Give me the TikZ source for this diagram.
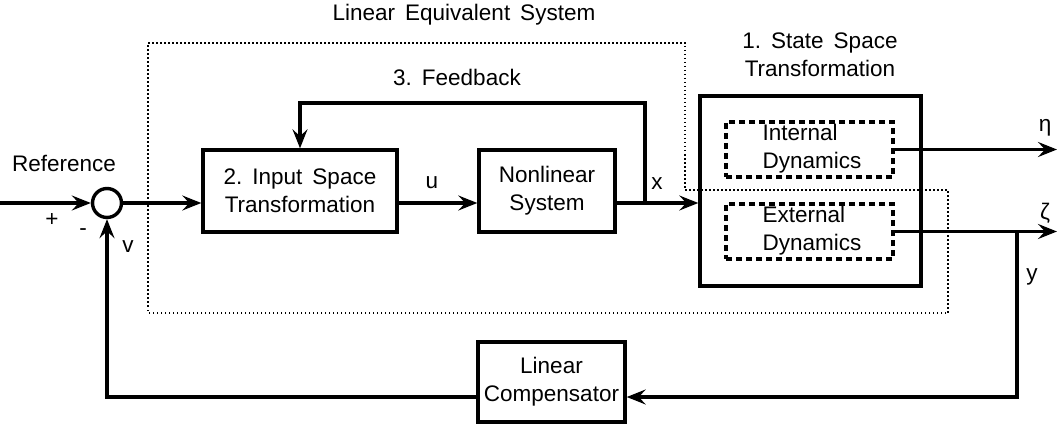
\documentclass[tikz,border=0pt]{standalone}
\usepackage{fontspec}
\setmainfont{Liberation Sans}
\usetikzlibrary{arrows.meta,calc}
\newcommand\widespaces{\spaceskip=10pt\relax}
\begin{document}
\begin{tikzpicture}[x=1pt,y=-1pt,
  font=\fontsize{22.5}{28}\selectfont\widespaces,
  blk/.style={draw,line width=3.4pt,align=center,inner sep=0pt},
  dyn/.style={draw,line width=3.2pt,dash pattern=on 6pt off 4pt,inner sep=0pt},
  sig/.style={line width=3.4pt,-{Stealth[length=19pt,width=15pt,inset=7pt]}},
  dots/.style={line width=2.4pt,dash pattern=on 1.5pt off 2.5pt},
  lbl/.style={inner sep=0pt}]
\useasboundingbox (0,0) rectangle (1058,425);
% blocks
\node[blk,minimum width=194pt,minimum height=82pt] (inp) at (300,191) {2.\ Input Space\\Transformation};
\node[blk,minimum width=136pt,minimum height=82pt] (nl) at (547,191) {Nonlinear\\System};
\node[blk,minimum width=221pt,minimum height=190pt] (ss) at (810.5,191) {};
\node[dyn,minimum width=167pt,minimum height=55pt] (intd) at (809.5,149.5) {};
\node[dyn,minimum width=167pt,minimum height=55pt] (extd) at (809.5,231.5) {};
\node[lbl,align=left] (intt) at (812,149) {Internal\\Dynamics};
\node[lbl,align=left] (extt) at (812,231) {External\\Dynamics};
\node[blk,minimum width=147pt,minimum height=80pt] (comp) at (551.5,382) {Linear\\Compensator};
\node[draw,circle,line width=3.4pt,minimum size=29pt,inner sep=0pt] (sum) at (107,203) {};
% dotted linear equivalent system boundary
\draw[dots] (148,43) -- (685,43) -- (685,190) -- (948,190) -- (948,313) -- (148,313) -- cycle;
% coordinates
\coordinate (refin) at (0,203);
\coordinate (fbtop) at (645,103);
\coordinate (outend) at (1057,0);
\coordinate (yb) at (1017,0);
\coordinate (lowy) at (0,397);
% connectors
\draw[sig] (refin) -- (sum.west);
\draw[sig] (sum.east) -- (sum.east -| inp.west);
\draw[sig] (sum.east -| inp.east) -- (sum.east -| nl.west);
\draw[sig] (sum.east -| nl.east) -- (sum.east -| ss.west);
\draw[sig] (fbtop |- sum.east) -- (fbtop) -| (inp.north);
\draw[sig] (intd.east) -- (intd.east -| outend);
\draw[sig] (extd.east) -- (extd.east -| outend);
\draw[sig] (extd.east -| yb) |- (comp.east |- lowy);
\draw[sig] (comp.west |- lowy) -| (sum.south);
% labels
\node[lbl] (lles) at (464,15) {Linear Equivalent System};
\node[lbl] (lfb) at (457,77) {3.\ Feedback};
\node[lbl,align=center] (lss) at (820,55) {1.\ State Space\\Transformation};
\node[lbl] (lref) at (64,163) {Reference};
\node[lbl] (lplus) at (52,220) {+};
\node[lbl] (lminus) at (83,232) {-};
\node[lbl] (lv) at (128,247) {v};
\node[lbl] (lu) at (432,183) {u};
\node[lbl] (lx) at (657,184) {x};
\node[lbl] (leta) at (1045,128) {η};
\node[lbl] (lzeta) at (1045,213) {ζ};
\node[lbl] (ly) at (1032,277) {y};
\end{tikzpicture}
\end{document}
